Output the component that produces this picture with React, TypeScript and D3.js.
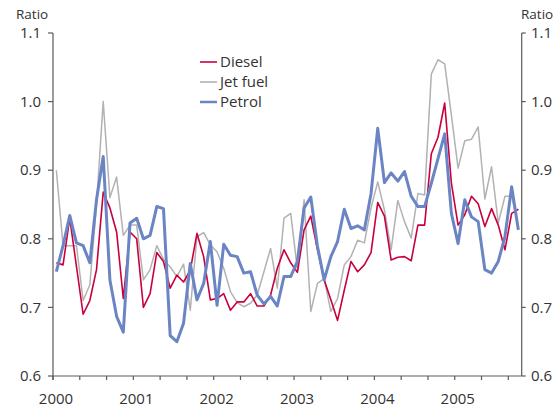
import React from "react";
import * as d3 from "d3";

const startYear = 2000;
const yearTicks = [2000, 2001, 2002, 2003, 2004, 2005];
const yTickValues = [0.6, 0.7, 0.8, 0.9, 1.0, 1.1];

const diesel = [
  0.765, 0.762, 0.83, 0.76, 0.69, 0.71, 0.755, 0.868, 0.845, 0.81, 0.713, 0.81,
  0.8, 0.7, 0.72, 0.78, 0.767, 0.728, 0.747, 0.737, 0.754, 0.808, 0.774, 0.711,
  0.713, 0.72, 0.696, 0.708, 0.708, 0.72, 0.702, 0.702, 0.718, 0.757, 0.784, 0.765,
  0.751, 0.813, 0.833, 0.784, 0.74, 0.711, 0.681, 0.725, 0.767, 0.752, 0.762, 0.78,
  0.853, 0.833, 0.769, 0.773, 0.774, 0.768, 0.82, 0.82, 0.924, 0.948, 0.998, 0.881,
  0.82, 0.835, 0.862, 0.851, 0.818, 0.844, 0.82, 0.784, 0.837, 0.843,
];

const jetFuel = [
  0.9, 0.79, 0.79, 0.79, 0.71, 0.733, 0.85, 1.0, 0.86, 0.89, 0.805, 0.82,
  0.82, 0.74, 0.755, 0.79, 0.77, 0.759, 0.745, 0.763, 0.696, 0.803, 0.809, 0.791,
  0.781, 0.757, 0.723, 0.707, 0.701, 0.706, 0.718, 0.752, 0.786, 0.728, 0.83, 0.837,
  0.755, 0.857, 0.694, 0.735, 0.742, 0.694, 0.713, 0.762, 0.774, 0.798, 0.794, 0.845,
  0.883, 0.842, 0.784, 0.856, 0.825, 0.801, 0.866, 0.864, 1.04, 1.061, 1.055, 0.98,
  0.903, 0.943, 0.945, 0.963, 0.858, 0.905, 0.823, 0.862, 0.862, 0.818,
];

const petrol = [
  0.752, 0.79, 0.834, 0.794, 0.79, 0.765, 0.857, 0.92, 0.74, 0.687, 0.664, 0.823,
  0.83, 0.8, 0.805, 0.847, 0.844, 0.659, 0.65, 0.677, 0.764, 0.711, 0.735, 0.796,
  0.703, 0.792, 0.776, 0.774, 0.75, 0.752, 0.718, 0.705, 0.716, 0.702, 0.745, 0.745,
  0.767, 0.845, 0.861, 0.789, 0.74, 0.774, 0.796, 0.843, 0.815, 0.819, 0.813, 0.866,
  0.961, 0.882, 0.896, 0.884, 0.898, 0.862, 0.847, 0.847, 0.881, 0.917, 0.953, 0.837,
  0.793, 0.857, 0.832, 0.825, 0.755, 0.75, 0.767, 0.803, 0.876, 0.813,
];

const seriesNames = ["Diesel", "Jet fuel", "Petrol"];
const seriesData = [diesel, jetFuel, petrol];
const seriesColors = ["#c8003c", "#b2b2b2", "#6b85c4"];
const seriesWidths = [1.6, 1.5, 3];
const drawOrder = [1, 0, 2];

const W = 560;
const H = 410;
const left = 53;
const right = 521.7;
const top = 33;
const bottom = 376;
const font = "'Open Sans', 'Noto Sans', sans-serif";
const axisColor = "#5a5a5a";
const textColor = "#333";

export default function App() {
  const endYear = startYear + diesel.length / 12;
  const x = d3.scaleLinear().domain([startYear, endYear]).range([left, right]);
  const y = d3.scaleLinear().domain([0.6, 1.1]).range([bottom, top]);

  const line = d3
    .line<number>()
    .x((_, i) => x(startYear + (i + 0.5) / 12))
    .y((d) => y(d));

  const minorTicks = d3.range(0, diesel.length / 12 + 1e-9, 1 / 3).map((v) => startYear + v);

  return (
    <svg
      width={W}
      height={H}
      style={{ position: "absolute", left: 0, top: 0, background: "#fff" }}
      fontFamily={font}
    >
      {/* series */}
      {drawOrder.map((k) => (
        <path
          key={seriesNames[k]}
          d={line(seriesData[k]) || ""}
          fill="none"
          stroke={seriesColors[k]}
          strokeWidth={seriesWidths[k]}
          strokeLinejoin="round"
        />
      ))}

      {/* axes */}
      <line x1={left} x2={left} y1={top} y2={bottom + 4} stroke={axisColor} strokeWidth={1.2} />
      <line x1={right} x2={right} y1={top} y2={bottom} stroke={axisColor} strokeWidth={1.2} />
      <line x1={left} x2={right} y1={bottom} y2={bottom} stroke={axisColor} strokeWidth={1.2} />

      {yTickValues.map((v) => (
        <g key={"yt" + v}>
          <line x1={left - 5} x2={left} y1={y(v)} y2={y(v)} stroke={axisColor} strokeWidth={1.2} />
          <line x1={right} x2={right + 4} y1={y(v)} y2={y(v)} stroke={axisColor} strokeWidth={1.2} />
          <text x={41} y={y(v)} dy="0.35em" textAnchor="end" fontSize={15} fill={textColor}>
            {v.toFixed(1)}
          </text>
          <text x={531} y={y(v)} dy="0.35em" textAnchor="start" fontSize={15} fill={textColor}>
            {v.toFixed(1)}
          </text>
        </g>
      ))}

      {minorTicks.map((t, i) => (
        <line
          key={"xt" + i}
          x1={x(t)}
          x2={x(t)}
          y1={bottom}
          y2={bottom + 4}
          stroke={axisColor}
          strokeWidth={1.2}
        />
      ))}

      {yearTicks.map((yr) => (
        <text key={"yr" + yr} x={x(yr) + 3} y={404} textAnchor="middle" fontSize={15} fill={textColor}>
          {yr}
        </text>
      ))}

      <text x={16} y={19} fontSize={13.5} fill={textColor}>
        Ratio
      </text>
      <text x={521} y={19} fontSize={13.5} fill={textColor}>
        Ratio
      </text>

      {/* legend */}
      {seriesNames.map((name, k) => (
        <g key={"lg" + name} transform={`translate(200, ${62 + k * 20})`}>
          <line x1={0} x2={17} y1={0} y2={0} stroke={seriesColors[k]} strokeWidth={k === 2 ? 2.5 : 1.6} />
          <text x={20} y={0} dy="0.35em" fontSize={15} fill={textColor}>
            {name}
          </text>
        </g>
      ))}
    </svg>
  );
}
